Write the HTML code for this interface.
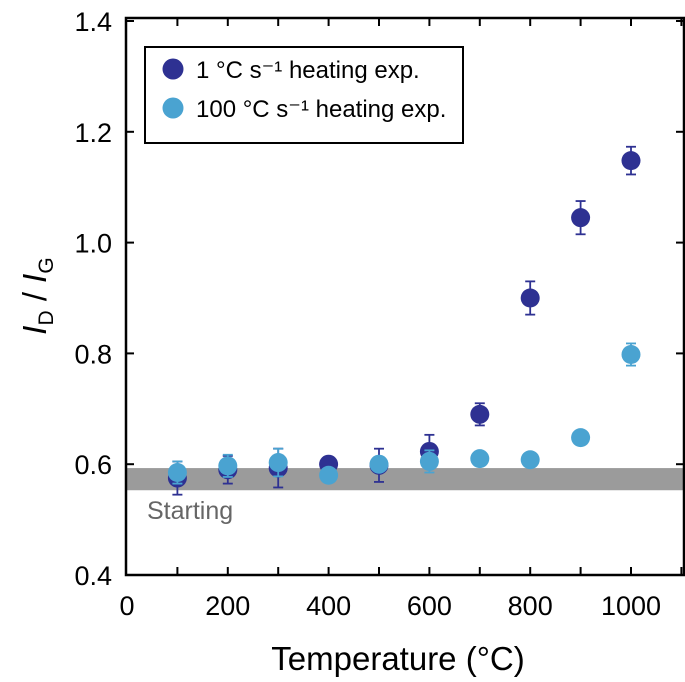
<!DOCTYPE html>
<html><head><meta charset="utf-8"><style>
body{margin:0;background:#fff}
text{font-family:"Liberation Sans",Arial,sans-serif}
</style></head><body>
<svg id="c" width="685" height="677">
</svg>
<script>
const temps=[100,200,300,400,500,600,700,800,900,1000];
const slowVals=[0.575,0.59,0.593,0.60,0.598,0.623,0.69,0.90,1.045,1.148];
const slowErr=[0.03,0.025,0.035,0,0.03,0.03,0.02,0.03,0.03,0.025];
const fastVals=[0.585,0.597,0.603,0.58,0.60,0.605,0.61,0.608,0.648,0.798];
const fastErr=[0.02,0.02,0.025,0,0,0.02,0,0,0,0.02];
const xTicks=[0,200,400,600,800,1000];
const yTicks=[0.4,0.6,0.8,1.0,1.2,1.4];
const band=[0.553,0.593];
const L=126,R=684,T=18,B=575;
const X=v=>127+v*0.504;
const Y=v=>B-(v-0.4)*554;
const svg=document.getElementById('c');
const NS='http://www.w3.org/2000/svg';
function mk(t,a,p){const e=document.createElementNS(NS,t);for(const k in a)e.setAttribute(k,a[k]);(p||svg).appendChild(e);return e;}
let b=mk('rect',{x:L,y:Y(band[1]),width:R-L,height:Y(band[0])-Y(band[1]),fill:'#9b9b9b'});


let st=mk('text',{x:147,y:519,'font-size':25,fill:'#666'});st.textContent='Starting';


let fr=mk('rect',{x:L,y:T,width:R-L,height:B-T,fill:'none',stroke:'#000','stroke-width':2.5});


for(let v=100;v<=1100;v+=100){const x=X(v);mk('line',{x1:x,x2:x,y1:B,y2:B-8,stroke:'#000','stroke-width':2});mk('line',{x1:x,x2:x,y1:T,y2:T+8,stroke:'#000','stroke-width':2});}
xTicks.forEach(v=>{const t=mk('text',{x:X(v),y:615,'font-size':27,'text-anchor':'middle'});t.textContent=v;

});
yTicks.forEach(v=>{const y=Y(v);mk('line',{x1:L,x2:L+8,y1:y,y2:y,stroke:'#000','stroke-width':2});mk('line',{x1:R,x2:R-8,y1:y,y2:y,stroke:'#000','stroke-width':2});
const t=mk('text',{x:112,y:y+10,'font-size':27,'text-anchor':'end'});t.textContent=v.toFixed(1);

});
function series(vals,err,col,name){temps.forEach((tv,i)=>{const x=X(tv),y=Y(vals[i]);
if(err[i]>0){const y1=Y(vals[i]+err[i]),y2=Y(vals[i]-err[i]);
mk('line',{x1:x,x2:x,y1:y1,y2:y2,stroke:col,'stroke-width':1.8});
mk('line',{x1:x-5,x2:x+5,y1:y1,y2:y1,stroke:col,'stroke-width':1.8});
mk('line',{x1:x-5,x2:x+5,y1:y2,y2:y2,stroke:col,'stroke-width':1.8});}
const c=mk('circle',{cx:x,cy:y,r:9.5,fill:col});

});}
series(slowVals,slowErr,'#2e3192','point-1c-per-s');
series(fastVals,fastErr,'#4aa3d1','point-100c-per-s');
let lg=mk('rect',{x:145,y:47,width:318,height:96,fill:'#fff',stroke:'#000','stroke-width':2});


[['#2e3192','1 °C s','⁻¹ heating exp.',77],['#4aa3d1','100 °C s','⁻¹ heating exp.',116]].forEach(d=>{
const c=mk('circle',{cx:173,cy:d[3]-8,r:10.5,fill:d[0]});


const t=mk('text',{x:196,y:d[3]+1,'font-size':24});t.textContent=d[1]+d[2];

});
let xt=mk('text',{x:398,y:670,'font-size':33,'text-anchor':'middle'});xt.textContent='Temperature (°C)';


let yt=mk('text',{transform:'translate(46,296) rotate(-90)','font-size':33,'text-anchor':'middle','font-style':'italic'});
yt.innerHTML='I<tspan font-size="21" font-style="normal" dy="7">D</tspan><tspan font-style="normal" dy="-7"> / </tspan>I<tspan font-size="21" font-style="normal" dy="7">G</tspan>';


</script>
</body></html>
